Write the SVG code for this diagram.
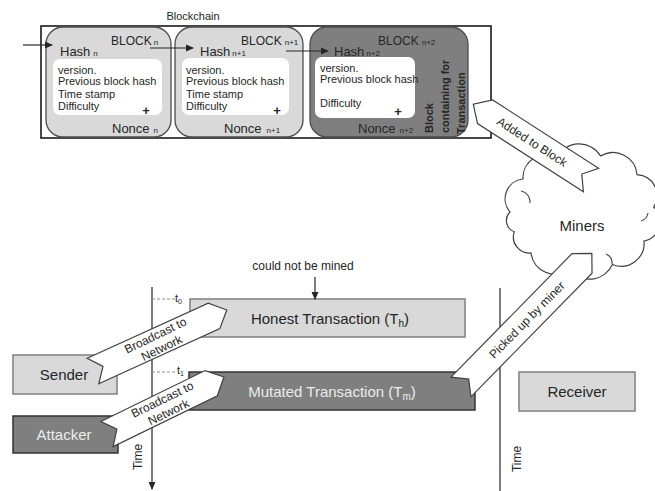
<svg xmlns="http://www.w3.org/2000/svg" width="655" height="491" viewBox="0 0 655 491">
<defs>
<style>
text{font-family:"Liberation Sans",Arial,sans-serif;fill:#262626}
.light{fill:#d9d9d9;stroke:#7f7f7f;stroke-width:1.5}
.dark{fill:#7f7f7f;stroke:#333;stroke-width:1.5}
.blk{fill:#d9d9d9;stroke:#4d4d4d;stroke-width:1.3}
.blkd{fill:#7f7f7f;stroke:#4d4d4d;stroke-width:1.3}
.inner{fill:#fff;stroke:none}
.ln{stroke:#262626;stroke-width:1.2;fill:none}
.barrow{fill:#fff;stroke:#404040;stroke-width:1.2}
.t11{font-size:11px}
.t12{font-size:12px}
.t13{font-size:13px}
.t15{font-size:15px}
.lt{fill:#ececec}
.dash{stroke:#8c8c8c;stroke-width:1;stroke-dasharray:3 2}
</style>
<marker id="ah" viewBox="0 0 8 8" refX="7" refY="4" markerWidth="8" markerHeight="8" markerUnits="userSpaceOnUse" orient="auto">
<path d="M0,0.5 L8,4 L0,7.5 Z" fill="#262626"/>
</marker>
</defs>

<g id="timelines">
<line class="ln" x1="152" y1="287" x2="152" y2="489" marker-end="url(#ah)" stroke="#404040"/>
<text class="t12" transform="translate(142,457) rotate(-90)" text-anchor="middle">Time</text>
<line class="ln" x1="500" y1="288" x2="500" y2="491" stroke="#404040"/>
<text class="t12" transform="translate(521,459) rotate(-90)" text-anchor="middle">Time</text>
<line class="dash" x1="152" y1="299" x2="175" y2="299"/>
<text class="t11" x="175" y="302">t<tspan font-size="7" dy="2">0</tspan></text>
<line class="dash" x1="152" y1="372" x2="176" y2="372"/>
<text class="t11" x="177" y="374">t<tspan font-size="7" dy="2">1</tspan></text>
</g>

<g id="blockchain">
<text class="t11" x="193" y="20" text-anchor="middle">Blockchain</text>
<rect x="41" y="26" width="450" height="112" fill="none" stroke="#1a1a1a" stroke-width="1.6"/>
</g>

<g id="block-n">
<rect class="blk" x="46" y="27" width="125" height="110" rx="17"/>
<rect class="inner" x="53" y="59" width="109" height="56" rx="7"/>
<text class="t12" x="111" y="45">BLOCK<tspan font-size="8" dx="2">n</tspan></text>
<text class="t13" x="60" y="56">Hash<tspan font-size="8" dx="3">n</tspan></text>
<text class="t11" x="58" y="74">version.</text>
<text class="t11" x="58" y="85">Previous block hash</text>
<text class="t11" x="58" y="98">Time stamp</text>
<text class="t11" x="58" y="110">Difficulty</text>
<text class="t13" x="146" y="115" text-anchor="middle" font-weight="bold">+</text>
<text class="t13" x="112" y="133">Nonce<tspan font-size="8" dx="4">n</tspan></text>
</g>

<g id="block-n1">
<rect class="blk" x="175" y="27" width="128" height="110" rx="17"/>
<rect class="inner" x="182" y="58" width="107" height="57" rx="7"/>
<text class="t12" x="241" y="45">BLOCK<tspan font-size="8" dx="3">n+1</tspan></text>
<text class="t13" x="200" y="56">Hash<tspan font-size="8" dx="2">n+1</tspan></text>
<text class="t11" x="186" y="74">version.</text>
<text class="t11" x="186" y="85">Previous block hash</text>
<text class="t11" x="186" y="98">Time stamp</text>
<text class="t11" x="186" y="110">Difficulty</text>
<text class="t13" x="277" y="115" text-anchor="middle" font-weight="bold">+</text>
<text class="t13" x="224" y="133">Nonce<tspan font-size="8" dx="5">n+1</tspan></text>
</g>

<g id="block-n2">
<rect class="blkd" x="310" y="27" width="158" height="110" rx="17"/>
<rect class="inner" x="315" y="57" width="100" height="61" rx="7"/>
<text class="t12" x="378" y="45">BLOCK<tspan font-size="8" dx="3">n+2</tspan></text>
<text class="t13" x="334" y="56">Hash<tspan font-size="8" dx="2">n+2</tspan></text>
<text class="t11" x="320" y="72">version.</text>
<text class="t11" x="320" y="83">Previous block hash</text>
<text class="t11" x="320" y="107">Difficulty</text>
<text class="t13" x="398" y="116" text-anchor="middle" font-weight="bold">+</text>
<text class="t13" x="358" y="133">Nonce<tspan font-size="8" dx="4">n+2</tspan></text>
<text class="t11" font-weight="bold" transform="translate(433,133) rotate(-90)">Block</text>
<text class="t11" font-weight="bold" transform="translate(449,133) rotate(-90)">containing for</text>
<text class="t11" font-weight="bold" transform="translate(465,134) rotate(-90)">Transaction</text>
</g>

<g id="miners">
<path d="M510,212 A20 20 0 0 1 523,179 A23 23 0 0 1 557,157.5 A25 25 0 0 1 600.6,156 A24 24 0 0 1 637,174.7 A21 21 0 0 1 653.7,207 A20 20 0 0 1 644,241 A23 23 0 0 1 612.4,264.5 A25 25 0 0 1 569.5,269 A24 24 0 0 1 531,253 A16 16 0 0 1 514.3,231.8 A12 12 0 0 1 510,212 Z" fill="#fff" stroke="#404040" stroke-width="1.2"/>
<path d="M521,191 A11 11 0 0 1 530,203 M557,158 A12 12 0 0 0 562,167 M641,221 A10 10 0 0 0 648,213 M612,264 A10 10 0 0 0 606,254" fill="none" stroke="#404040" stroke-width="1.1"/>
<text class="t15" x="582" y="231" text-anchor="middle">Miners</text>
</g>

<g id="honest-tx">
<rect class="light" x="190" y="299" width="275" height="38"/>
<text class="t15" x="330" y="324" text-anchor="middle">Honest Transaction (T<tspan font-size="10" dy="3">h</tspan><tspan dy="-3">)</tspan></text>
</g>

<g id="mutated-tx">
<rect class="dark" x="189" y="372" width="286" height="38"/>
<text class="t15 lt" x="332" y="397" text-anchor="middle">Mutated Transaction (T<tspan font-size="10" dy="3">m</tspan><tspan dy="-3">)</tspan></text>
</g>

<g id="sender">
<rect class="light" x="13" y="355" width="104" height="39"/>
<text class="t15" x="64" y="380" text-anchor="middle">Sender</text>
</g>

<g id="attacker">
<rect class="dark" x="13" y="416" width="105" height="37"/>
<text class="t15 lt" x="64" y="440" text-anchor="middle">Attacker</text>
</g>

<g id="receiver">
<rect class="light" x="519" y="372" width="116" height="39"/>
<text class="t15" x="577" y="397" text-anchor="middle">Receiver</text>
</g>

<g id="annotation">
<text class="t12" x="303" y="270" text-anchor="middle">could not be mined</text>
</g>

<g id="connectors">
<line class="ln" x1="23" y1="45" x2="52" y2="45" marker-end="url(#ah)"/>
<line class="ln" x1="150" y1="48" x2="193" y2="48" marker-end="url(#ah)"/>
<line class="ln" x1="286" y1="51" x2="328" y2="51" marker-end="url(#ah)"/>
<line class="ln" x1="315" y1="277" x2="315" y2="299" marker-end="url(#ah)" stroke="#404040"/>

<path class="barrow" transform="translate(591,180) rotate(-147.2)" d="M0,-14 H126 L140,0 L126,14 H0 L11,0 Z"/>
<text class="t12" transform="translate(532,142) rotate(32.8)" text-anchor="middle" y="4">Added to Block</text>

<path class="barrow" transform="translate(93,371) rotate(-24.5)" d="M0,-14 H133 L147,0 L133,14 H0 L11,0 Z"/>
<g transform="translate(160,340) rotate(-26)">
<text class="t12" text-anchor="middle" x="-2" y="-2">Broadcast to</text>
<text class="t12" text-anchor="middle" x="-2" y="12">Network</text>
</g>

<path class="barrow" transform="translate(107,434) rotate(-26)" d="M0,-14 H116 L130,0 L116,14 H0 L11,0 Z"/>
<g transform="translate(165,405) rotate(-26)">
<text class="t12" text-anchor="middle" x="0" y="-2">Broadcast to</text>
<text class="t12" text-anchor="middle" x="0" y="12">Network</text>
</g>

<path class="barrow" transform="translate(461,387) rotate(-45.6)" d="M0,-14 H173 L187,0 L173,14 H0 L11,0 Z"/>
<text class="t12" transform="translate(527,320) rotate(-45.6)" text-anchor="middle" y="4">Picked up by miner</text>
</g>
</svg>
